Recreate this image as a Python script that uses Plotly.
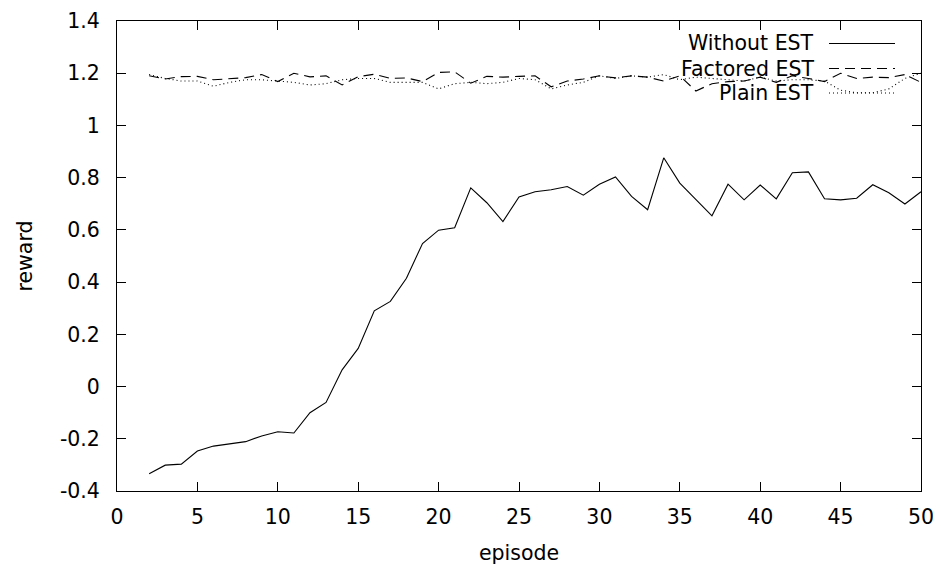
import plotly.graph_objects as go

# Episode numbers and per-episode reward for each agent variant
episodes = list(range(2, 51))

without_est = [
    -0.334, -0.301, -0.297, -0.247, -0.228, -0.219, -0.211, -0.189, -0.173,
    -0.178, -0.100, -0.061, 0.064, 0.146, 0.290, 0.326, 0.415, 0.548, 0.599,
    0.608, 0.761, 0.704, 0.632, 0.726, 0.746, 0.754, 0.766, 0.733, 0.775,
    0.803, 0.728, 0.677, 0.876, 0.779, 0.716, 0.654, 0.775, 0.715, 0.772,
    0.719, 0.819, 0.822, 0.719, 0.715, 0.721, 0.773, 0.742, 0.699, 0.746,
]

factored_est = [
    1.190, 1.178, 1.187, 1.188, 1.175, 1.180, 1.183, 1.195, 1.168,
    1.200, 1.186, 1.190, 1.155, 1.187, 1.196, 1.180, 1.182, 1.168, 1.203,
    1.205, 1.162, 1.188, 1.185, 1.188, 1.190, 1.148, 1.170, 1.178, 1.190,
    1.182, 1.190, 1.185, 1.170, 1.190, 1.132, 1.160, 1.168, 1.170, 1.185,
    1.165, 1.190, 1.180, 1.168, 1.200, 1.180, 1.185, 1.183, 1.195, 1.165,
]

plain_est = [
    1.195, 1.180, 1.170, 1.170, 1.150, 1.165, 1.175, 1.175, 1.170,
    1.165, 1.155, 1.160, 1.175, 1.180, 1.180, 1.165, 1.165, 1.165, 1.140,
    1.160, 1.165, 1.160, 1.165, 1.180, 1.175, 1.140, 1.155, 1.165, 1.190,
    1.180, 1.190, 1.185, 1.195, 1.175, 1.185, 1.180, 1.175, 1.170, 1.185,
    1.170, 1.175, 1.175, 1.170, 1.135, 1.125, 1.125, 1.140, 1.180, 1.200,
]

series_names = ["Without EST", "Factored EST", "Plain EST"]
series_dash = ["solid", "10px,6px", "1px,3px"]

x_ticks = [0, 5, 10, 15, 20, 25, 30, 35, 40, 45, 50]
y_ticks = [-0.4, -0.2, 0, 0.2, 0.4, 0.6, 0.8, 1.0, 1.2, 1.4]
y_tick_text = ["-0.4", "-0.2", "0", "0.2", "0.4", "0.6", "0.8", "1", "1.2", "1.4"]

FONT = "DejaVu Sans"
FS = 20.5
W, H = 941, 565
L, R, T, B = 117, 20, 21, 74
PW, PH = W - L - R, H - T - B

fig = go.Figure()
for name, ys, dash in zip(series_names, [without_est, factored_est, plain_est], series_dash):
    fig.add_trace(go.Scatter(
        x=episodes, y=ys, mode="lines", name=name,
        line=dict(color="black", width=1.1, dash=dash),
        showlegend=False,
    ))

# gnuplot-style key: right-aligned labels with the line sample to their right
def px_x(p):
    return (p - L) / PW

def px_y(p):
    return (H - B - p) / PH

key_rows = [43.5, 68.5, 93]
for name, dash, row in zip(series_names, series_dash, key_rows):
    fig.add_annotation(
        x=px_x(816), y=px_y(row), xref="paper", yref="paper",
        text=name, showarrow=False, xanchor="right", yanchor="middle",
        font=dict(family=FONT, size=FS, color="black"),
    )
    fig.add_shape(
        type="line", xref="paper", yref="paper",
        x0=px_x(829), x1=px_x(895), y0=px_y(row), y1=px_y(row),
        line=dict(color="black", width=1.1, dash=dash),
    )

axis_common = dict(
    showline=True, linecolor="black", linewidth=1, mirror="ticks",
    ticks="inside", ticklen=9, tickcolor="black", tickwidth=1,
    showgrid=False, zeroline=False, automargin=False,
    tickfont=dict(family=FONT, size=FS, color="black"),
)

fig.update_xaxes(
    range=[0, 50], tickvals=x_ticks, ticklabelstandoff=7,
    title=dict(text="episode", font=dict(family=FONT, size=FS, color="black"), standoff=18),
    **axis_common,
)
fig.update_yaxes(
    range=[-0.4, 1.4], tickvals=y_ticks, ticktext=y_tick_text, ticklabelstandoff=12,
    title=dict(text="reward", font=dict(family=FONT, size=FS, color="black"), standoff=21),
    **axis_common,
)

fig.update_layout(
    width=W, height=H,
    margin=dict(l=L, r=R, t=T, b=B, autoexpand=False),
    plot_bgcolor="white", paper_bgcolor="white",
    font=dict(family=FONT, color="black"),
)

fig.write_html("out.html")
